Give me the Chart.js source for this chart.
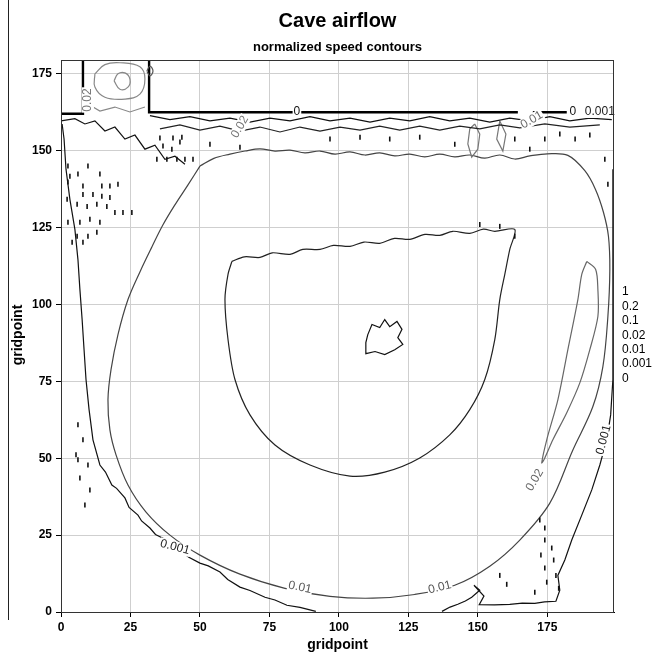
<!DOCTYPE html>
<html>
<head>
<meta charset="utf-8">
<script src="https://cdn.jsdelivr.net/npm/chart.js@4.4.1/dist/chart.umd.min.js"></script>
<style>
  html, body { margin: 0; padding: 0; background: #fff; }
  #wrap { width: 654px; height: 657px; }
</style>
</head>
<body>
<div id="wrap"><canvas id="caveChart" width="654" height="657"></canvas></div>
<script>
// contour levels shown on the right
const levels = ['1', '0.2', '0.1', '0.02', '0.01', '0.001', '0'];
const xTicks = [0, 25, 50, 75, 100, 125, 150, 175];
const yTicks = [0, 25, 50, 75, 100, 125, 150, 175];

// cave wall (level 0)
const wallLeft = [[0, 162], [7.9, 162], [7.9, 179.4]];
const wallTop = [[31.7, 179.4], [31.7, 162.5], [164.4, 162.5]];
const wallTop2 = [[169.8, 162.5], [182.0, 162.5]];
const wallTop3 = [[197.5, 162.5], [199, 162.5]];

// outer 0.001 contour, left and right branches
const c0001Left = [[0.4, 158.7], [1.1, 153.8], [1.8, 144.0], [3.2, 134.2], [5.0, 124.4], [6.1, 114.6],
  [6.8, 104.9], [7.6, 95.1], [8.3, 85.3], [9.0, 75.6], [10.1, 65.8], [11.5, 56.0], [14.0, 47.8],
  [16.0, 45.5], [18.3, 41.3], [20.0, 40.2], [23.0, 37.1], [24.5, 34.0], [27.7, 31.5], [29.0, 29.6],
  [32.0, 27.3], [34.0, 25.2], [36.7, 24.0], [40.0, 21.5], [42.8, 20.1], [46.0, 17.8], [50.0, 15.9],
  [53.0, 15.0], [57.2, 13.0], [60.0, 10.6], [64.4, 8.1], [68.0, 7.0], [73.4, 4.8], [77.0, 3.9],
  [81.3, 2.2], [86.0, 1.5], [91.7, 0.2]];
const c0001Right = [[137.1, 0.2], [140.0, 1.6], [142.8, 2.5], [145.5, 3.6], [147.8, 4.8], [150.7, 7.1],
  [148.6, 8.7], [152.2, 5.2], [150.5, 2.4], [156.0, 2.3], [161.5, 2.5], [166.0, 2.9], [170.5, 2.8],
  [174.0, 3.3], [178.1, 3.5], [179.5, 7.1], [178.8, 11.9], [181.3, 16.9], [183.8, 23.4], [187.4, 31.5],
  [191.0, 39.7], [193.9, 47.8], [196.4, 56.0], [197.8, 64.1], [198.6, 75.6], [198.6, 101.6],
  [198.6, 121.2], [198.6, 144.0]];

// 0.01 contour, the big loop
const c001 = [[50.0, 145.0], [45.7, 138.9], [41.0, 132.4], [36.7, 125.9], [32.7, 118.7], [28.4, 110.6],
  [24.1, 101.6], [20.5, 90.2], [18.0, 78.8], [16.9, 69.0], [17.6, 59.2], [19.8, 51.1], [24.1, 41.3],
  [30.6, 32.5], [39.2, 25.0], [50.0, 18.5], [64.4, 12.3], [80.6, 7.7], [96.8, 5.1], [112.2, 4.5],
  [127.3, 5.7], [141.7, 8.7], [154.3, 14.9], [165.1, 23.4], [175.9, 35.4], [184.2, 52.7],
  [191.4, 66.8], [195.0, 79.8], [196.8, 96.1], [197.5, 111.4], [197.0, 122.2], [195.2, 130.0],
  [192.3, 137.5], [188.5, 143.5], [182.4, 148.5], [175.0, 149.0], [168.7, 148.3], [163.3, 147.3],
  [157.9, 148.6], [152.5, 147.6], [147.1, 148.6], [141.7, 148.0], [136.3, 148.9], [130.9, 148.0],
  [125.5, 148.9], [120.1, 148.3], [114.7, 149.3], [109.4, 148.6], [104.0, 149.6], [98.6, 148.9],
  [93.2, 149.9], [87.8, 149.3], [82.4, 150.2], [77.0, 149.9], [71.6, 150.6], [66.2, 149.9],
  [60.8, 148.9], [55.0, 147.5], [50.0, 145.0]];

// inner teardrop contour
const cInner = [[61.5, 114.0], [66.0, 115.5], [71.6, 115.3], [76.0, 116.8], [82.4, 116.3], [87.0, 117.9],
  [93.2, 117.9], [98.0, 119.2], [104.0, 118.9], [109.0, 120.3], [114.7, 119.9], [120.0, 121.5],
  [125.5, 121.2], [131.0, 122.8], [136.3, 122.5], [141.0, 123.8], [147.1, 123.1], [152.0, 124.5],
  [156.1, 123.8], [163.3, 124.4], [161.5, 117.9], [159.7, 109.8], [157.9, 101.6], [156.1, 88.6],
  [152.5, 75.6], [147.1, 65.8], [139.9, 57.6], [129.1, 50.1], [116.5, 45.5], [104.0, 44.2],
  [89.6, 47.8], [77.0, 54.3], [68.0, 64.1], [62.6, 75.6], [60.1, 88.6], [59.0, 101.6], [60.1, 109.8],
  [61.5, 114.0]];

// small blob in the centre
const cCentre = [[110.4, 90.2], [111.9, 93.5], [114.7, 92.5], [116.5, 95.1], [118.3, 92.8], [120.9, 94.5],
  [122.7, 91.9], [121.2, 89.2], [123.0, 87.0], [120.1, 85.3], [116.5, 83.7], [113.0, 84.7],
  [109.7, 84.0], [109.7, 87.6], [110.4, 90.2]];

// thin loop on the right (0.02)
const c002 = [[189.2, 114.0], [192.4, 111.4], [193.2, 104.9], [193.2, 96.1], [190.3, 85.3], [186.7, 74.5],
  [182.0, 64.8], [177.0, 56.0], [174.1, 50.1], [173.0, 48.5], [174.8, 56.0], [178.8, 69.0],
  [182.4, 85.3], [186.0, 101.6], [187.4, 109.8], [189.2, 114.0]];

// chimney contours (grey)
const chimney1 = [[19.1, 172.7], [20.5, 175.0], [23.0, 175.3], [24.8, 173.3], [24.1, 170.7], [21.2, 170.0], [19.1, 172.7]];
const chimney2 = [[12.2, 175.0], [15.8, 178.0], [21.2, 178.6], [28.4, 177.3], [30.2, 173.3], [28.4, 168.4],
  [23.0, 166.8], [15.8, 167.4], [12.2, 170.7], [12.2, 175.0]];
const chimney3 = [[9.7, 165.2], [14.0, 162.9], [19.4, 164.2], [24.8, 162.6], [30.2, 164.2]];
const chimney4 = [[30.9, 175.9], [32.0, 177.5], [33.1, 175.9], [32.0, 174.3], [30.9, 175.9]];

// jagged bands below the roof
const band1 = [[32.0, 161.4], [39.2, 160.1], [46.4, 161.1], [53.6, 159.7], [60.8, 160.6], [68.0, 159.3],
  [75.2, 160.6], [82.4, 159.7], [89.6, 161.1], [96.8, 159.7], [104.0, 160.6], [111.2, 159.3],
  [118.3, 160.6], [125.5, 159.7], [132.7, 161.1], [139.9, 159.7], [147.1, 160.6], [154.3, 159.3],
  [161.5, 160.6], [168.7, 159.7], [175.9, 161.1], [183.1, 159.7], [190.3, 160.6], [198.2, 160.1]];
const band2 = [[35.6, 157.1], [42.8, 158.4], [50.0, 156.7], [57.2, 158.0], [64.4, 156.4], [71.6, 157.7],
  [78.8, 156.1], [86.0, 157.7], [93.2, 156.4], [100.4, 157.7], [107.6, 156.7], [114.7, 158.0],
  [121.9, 156.7], [129.1, 158.0], [136.3, 156.7], [143.5, 158.0], [150.7, 157.1], [157.9, 158.4],
  [165.1, 157.4], [174.1, 158.7], [183.1, 157.7], [193.9, 158.4]];
const band3 = [[0, 159.7], [5.0, 160.4], [8.6, 158.7], [12.2, 159.7], [15.8, 156.4], [19.4, 157.7],
  [23.0, 153.8], [26.6, 155.1], [30.2, 150.5], [33.8, 151.8], [37.4, 147.2], [41.0, 148.2], [44.6, 145.6]];
const greyLoop1 = [[148.9, 158.7], [150.7, 155.4], [150.0, 150.5], [147.8, 147.9], [146.4, 152.2], [147.1, 157.1], [148.9, 158.7]];
const greyLoop2 = [[157.9, 159.7], [160.1, 155.4], [159.0, 149.9], [156.8, 153.8], [157.9, 159.7]];

// small closed cells scattered in the noisy zones
const specks = [[2.5, 145.0], [3.2, 141.7], [6.1, 142.4], [9.7, 145.0], [14.0, 142.4], [2.5, 139.8],
  [7.9, 138.5], [14.7, 138.5], [17.6, 138.5], [20.5, 139.1], [7.9, 135.8], [11.5, 135.8], [14.7, 135.2],
  [17.6, 134.8], [2.2, 134.2], [5.8, 132.6], [9.4, 131.9], [12.9, 132.6], [16.5, 131.9], [19.4, 129.9],
  [22.3, 129.9], [25.5, 129.9], [36.7, 151.5], [39.9, 150.5], [42.8, 152.8], [34.5, 147.2], [38.1, 147.2],
  [41.7, 147.2], [44.6, 147.2], [47.5, 147.2], [35.6, 154.1], [40.3, 154.1], [43.5, 154.4], [2.5, 126.7],
  [6.8, 126.7], [10.4, 127.7], [14.0, 126.7], [5.8, 122.2], [9.7, 122.2], [12.9, 123.5], [4.0, 120.2],
  [7.9, 120.2], [53.6, 152.1], [64.4, 151.1], [96.8, 153.8], [107.6, 154.4], [118.3, 153.8], [129.1, 154.4],
  [141.7, 152.1], [163.3, 153.8], [168.7, 150.5], [174.1, 153.8], [179.5, 155.4], [185.0, 153.8],
  [190.3, 155.1], [195.7, 147.2], [196.8, 139.1], [150.7, 126.0], [157.9, 125.4], [163.3, 122.2],
  [6.1, 60.9], [7.9, 56.0], [5.4, 51.1], [9.7, 47.8], [6.8, 43.6], [10.4, 39.7], [8.6, 34.8], [6.1, 49.5],
  [174.1, 23.4], [176.6, 20.8], [172.7, 18.5], [177.3, 16.9], [174.1, 14.3], [178.1, 11.9], [174.8, 9.7],
  [179.1, 7.7], [170.5, 6.4], [160.4, 9.0], [157.9, 11.9], [172.3, 29.9], [174.1, 27.3]];

// in-line contour labels: text, x, y, angle (deg), colour
const curveLabels = [
  ['0.001', 41.0, 21.1, 15, '#222'],
  ['0.01', 86.0, 8.0, 12, '#555'],
  ['0.01', 136.3, 8.0, -14, '#555'],
  ['0.02', 170.5, 42.9, -60, '#666'],
  ['0.001', 195.3, 56.0, -75, '#222'],
  ['0.01', 169.4, 160.0, -30, '#666'],
  ['0.02', 64.4, 157.7, -60, '#777'],
  ['0.02', 9.7, 166.5, -90, '#777'],
  ['0', 84.9, 162.6, 0, '#111'],
  ['0', 184.2, 162.6, 0, '#111'],
  ['0.001', 193.9, 162.6, 0, '#222']
];

const pts = arr => arr.map(p => ({ x: p[0], y: p[1] }));
const FONT = '"Liberation Sans", Arial, sans-serif';

function line(data, color, width, tension) {
  return {
    data: pts(data), showLine: true, borderColor: color, borderWidth: width || 1.2,
    pointRadius: 0, fill: false, tension: tension || 0
  };
}

const datasets = [
  {
    data: pts(specks), showLine: false, pointRadius: 2.5, pointStyle: 'line', rotation: 90,
    borderColor: '#111', borderWidth: 1.6
  },
  line(band1, '#111'), line(band2, '#222'), line(band3, '#111'),
  line(greyLoop1, '#777'), line(greyLoop2, '#777'),
  line(chimney1, '#888', 1.2, 0.4), line(chimney2, '#888', 1.2, 0.4), line(chimney3, '#888'), line(chimney4, '#555', 1.2, 0.4),
  line(c0001Left, '#111'), line(c0001Right, '#111'),
  line(c001, '#444', 1.2, 0.35), line(cInner, '#222', 1.2, 0.3), line(cCentre, '#111'), line(c002, '#666', 1.2, 0.3),
  line(wallLeft, '#000', 2.4), line(wallTop, '#000', 2.4), line(wallTop2, '#000', 2.4), line(wallTop3, '#000', 2.4)
];

const decorations = {
  id: 'decorations',
  afterDatasetsDraw(chart) {
    const { ctx, chartArea: a, scales } = chart;
    ctx.save();
    // contour labels
    ctx.font = '12px ' + FONT;
    ctx.textAlign = 'center';
    ctx.textBaseline = 'middle';
    curveLabels.forEach(([t, x, y, ang, col]) => {
      const px = scales.x.getPixelForValue(x);
      const py = scales.y.getPixelForValue(y);
      ctx.save();
      ctx.translate(px, py);
      ctx.rotate(ang * Math.PI / 180);
      const w = ctx.measureText(t).width;
      ctx.fillStyle = '#fff';
      ctx.fillRect(-w / 2 - 1, -6, w + 2, 12);
      ctx.fillStyle = col;
      ctx.fillText(t, 0, 0);
      ctx.restore();
    });
    // frame
    ctx.strokeStyle = '#333';
    ctx.lineWidth = 1;
    ctx.strokeRect(a.left + 0.5, a.top + 0.5, a.right - a.left - 1, a.bottom - a.top);
    ctx.restore();
  },
  afterDraw(chart) {
    const { ctx, chartArea: a } = chart;
    const cx = (a.left + a.right) / 2;
    ctx.save();
    ctx.fillStyle = '#000';
    ctx.textAlign = 'center';
    ctx.textBaseline = 'middle';
    ctx.font = 'bold 20px ' + FONT;
    ctx.fillText('Cave airflow', cx, 21);
    ctx.font = 'bold 13px ' + FONT;
    ctx.fillText('normalized speed contours', cx, 47);
    ctx.font = 'bold 14px ' + FONT;
    ctx.fillText('gridpoint', cx, 645);
    ctx.save();
    ctx.translate(18, 335);
    ctx.rotate(-Math.PI / 2);
    ctx.fillText('gridpoint', 0, 0);
    ctx.restore();
    // level list
    ctx.font = '12px ' + FONT;
    ctx.textAlign = 'left';
    levels.forEach((t, i) => ctx.fillText(t, 622, 292 + i * 14.4));
    // stray rule at the far left
    ctx.strokeStyle = '#222';
    ctx.beginPath();
    ctx.moveTo(8.5, 0);
    ctx.lineTo(8.5, 620);
    ctx.stroke();
    ctx.restore();
  }
};

const tickFont = { family: FONT, size: 12, weight: 'bold' };

new Chart(document.getElementById('caveChart'), {
  type: 'scatter',
  data: { datasets },
  options: {
    responsive: false,
    animation: false,
    devicePixelRatio: 1,
    layout: { padding: { top: 60, right: 40, left: 0, bottom: 0 } },
    plugins: { legend: { display: false }, tooltip: { enabled: false } },
    scales: {
      x: {
        type: 'linear', min: 0, max: 199,
        afterFit: s => { s.height = 45; },
        afterBuildTicks: s => { s.ticks = xTicks.map(v => ({ value: v })); },
        ticks: { stepSize: 25, includeBounds: false, font: tickFont, color: '#000', padding: 3, maxRotation: 0 },
        grid: { color: '#cfcfcf', tickLength: 5, tickColor: '#000' },
        border: { color: '#000' }
      },
      y: {
        type: 'linear', min: 0, max: 179.5,
        afterFit: s => { s.width = 61; },
        afterBuildTicks: s => { s.ticks = yTicks.map(v => ({ value: v })); },
        ticks: { stepSize: 25, includeBounds: false, font: tickFont, color: '#000', padding: 4 },
        grid: { color: '#cfcfcf', tickLength: 5, tickColor: '#000' },
        border: { color: '#000' }
      }
    }
  },
  plugins: [decorations]
});
</script>
</body>
</html>
